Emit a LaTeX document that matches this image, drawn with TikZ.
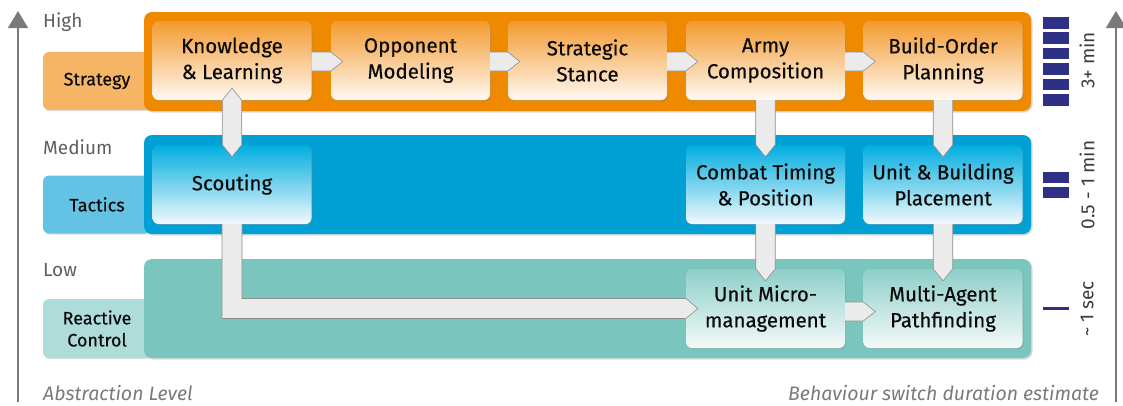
\documentclass[tikz,border=0pt]{standalone}
\usepackage{fontspec}
\setmainfont{Fira Sans}
\newfontfamily\stagefont{Fira Sans}[FakeBold=0.35]
\usetikzlibrary{calc,shadows,arrows.meta}

\definecolor{bandOrange}{HTML}{EF8A00}
\definecolor{lblOrange}{HTML}{F5B565}
\definecolor{boxOrangeTop}{HTML}{F39A30}
\definecolor{boxOrangeBot}{HTML}{FFF9F2}
\definecolor{bandBlue}{HTML}{00A0D4}
\definecolor{lblBlue}{HTML}{64C3E5}
\definecolor{boxBlueTop}{HTML}{00ADDF}
\definecolor{boxBlueBot}{HTML}{F2F9FD}
\definecolor{bandTeal}{HTML}{7AC6BF}
\definecolor{lblTeal}{HTML}{AEDCD9}
\definecolor{boxTealTop}{HTML}{8ECFC8}
\definecolor{boxTealBot}{HTML}{F4FAF9}
\definecolor{arrowGrey}{HTML}{EBEBEB}
\definecolor{arrowEdge}{HTML}{8E8E8E}
\definecolor{axisGrey}{HTML}{7A7A7A}
\definecolor{levelGrey}{HTML}{5E5E5E}
\definecolor{noteGrey}{HTML}{7A7A7A}
\definecolor{barNavy}{HTML}{2E2F86}
\definecolor{inkDark}{HTML}{0A0A0A}

% block arrow from the right side of #2 into the left side of #3 (#1 = vertical offset)
\newcommand\hconn[3][0]{%
  \fill[arrowGrey] ($(#2.east)+(0,#1-9.5)$) -- ($(#3.west)+(0,#1-9.5)$)
    -- ($(#3.west)+(12,#1)$) -- ($(#3.west)+(0,#1+9.5)$)
    -- ($(#2.east)+(0,#1+9.5)$) -- cycle;
  \draw[arrowline] ($(#2.east)+(0,#1-9.5)$) -- ($(#3.west)+(0,#1-9.5)$)
    -- ($(#3.west)+(12,#1)$) -- ($(#3.west)+(0,#1+9.5)$)
    -- ($(#2.east)+(0,#1+9.5)$);
}
% block arrow from the bottom of #1 into the top of #2
\newcommand\vconn[2]{%
  \fill[arrowGrey] ($(#1.south)+(-9.75,0)$) -- ($(#2.north)+(-9.75,0)$)
    -- ($(#2.north)+(0,12)$) -- ($(#2.north)+(9.75,0)$)
    -- ($(#1.south)+(9.75,0)$) -- cycle;
  \draw[arrowline] ($(#1.south)+(-9.75,0)$) -- ($(#2.north)+(-9.75,0)$)
    -- ($(#2.north)+(0,12)$) -- ($(#2.north)+(9.75,0)$)
    -- ($(#1.south)+(9.75,0)$);
}

\begin{document}
\begin{tikzpicture}[x=1pt,y=-1pt,
  lvlbox/.style={rounded corners=6pt, minimum width=108pt, minimum height=58pt,
    inner sep=0pt, align=center, text=inkDark, font=\stagefont\fontsize{18}{22}\selectfont,
    drop shadow={shadow xshift=1.2pt, shadow yshift=-1.2pt, opacity=0.25}},
  band/.style={rounded corners=8pt, minimum width=887pt, minimum height=99pt, inner sep=0pt,
    drop shadow={shadow xshift=1.5pt, shadow yshift=-1.5pt, opacity=0.3}},
  stagebox/.style={rounded corners=6pt, minimum width=159pt, minimum height=79pt,
    inner sep=0pt, align=center, text=inkDark, font=\stagefont\fontsize{20.5}{26}\selectfont,
    drop shadow={shadow xshift=1.2pt, shadow yshift=-1.2pt, opacity=0.3}},
  orangebox/.style={stagebox, top color=boxOrangeTop, bottom color=boxOrangeBot},
  bluebox/.style={stagebox, top color=boxBlueTop, bottom color=boxBlueBot},
  tealbox/.style={stagebox, top color=boxTealTop, bottom color=boxTealBot},
  arrowline/.style={draw=arrowEdge, line width=0.6pt, line join=miter},
  levelname/.style={anchor=west, text=levelGrey, font=\fontsize{19}{22}\selectfont, inner sep=0pt},
  note/.style={text=noteGrey, font=\fontsize{19.5}{22}\selectfont\itshape, inner sep=0pt},
  duration/.style={rotate=90, text=inkDark!80, font=\fontsize{19}{22}\selectfont, inner sep=0pt},
  axis/.style={draw=axisGrey, line width=1.6pt, -{Triangle[width=20pt,length=17pt]}},
  bar/.style={fill=barNavy}
]
\useasboundingbox (0,0) rectangle (1123,405);

% abstraction axis (left) and duration axis (right)
\coordinate (axL0) at (18,402);
\coordinate (axL1) at (18,11);
\coordinate (axR0) at (1116,402);
\coordinate (axR1) at (1116,11);
\draw[axis] (axL0) -- (axL1);
\draw[axis] (axR0) -- (axR1);

% level names
\node[levelname] (high) at (43,22) {High};
\node[levelname] (medium) at (43,147) {Medium};
\node[levelname] (low) at (43,270) {Low};

% layer labels
\node[lvlbox, fill=lblOrange] (lstrat) at (97,81) {Strategy};
\node[lvlbox, fill=lblBlue] (ltact) at (97,204.5) {Tactics};
\node[lvlbox, fill=lblTeal, minimum height=59pt] (lreact) at (97,328.5) {Reactive\\Control};

% layer bands
\node[band, fill=bandOrange] (bandS) at (587.5,61.5) {};
\node[band, fill=bandBlue] (bandT) at (587.5,184.5) {};
\node[band, fill=bandTeal] (bandR) at (587.5,308.5) {};

% strategy stages
\node[orangebox] (k) at (232,60.5) {Knowledge\\\& Learning};
\node[orangebox] (o) at (410.5,60.5) {Opponent\\Modeling};
\node[orangebox] (s) at (587.5,60.5) {Strategic\\Stance};
\node[orangebox] (a) at (765.5,60.5) {Army\\Composition};
\node[orangebox] (b) at (943,60.5) {Build-Order\\Planning};

% tactics stages
\node[bluebox] (sc) at (232,184.5) {Scouting};
\node[bluebox] (ct) at (765.5,184.5) {Combat Timing\\\& Position};
\node[bluebox] (ub) at (943,184.5) {Unit \& Building\\Placement};

% reactive stages
\node[tealbox] (um) at (765.5,308.5) {Unit Micro-\\management};
\node[tealbox] (ma) at (943,308.5) {Multi-Agent\\Pathfinding};

% strategy chain
\hconn[1]{k}{o}
\hconn[1]{o}{s}
\hconn[1]{s}{a}
\hconn[1]{a}{b}

% knowledge <-> scouting
\fill[arrowGrey] ($(k.south)+(0,-12)$) -- ($(k.south)+(9.75,0)$) -- ($(sc.north)+(9.75,0)$)
  -- ($(sc.north)+(0,12)$) -- ($(sc.north)+(-9.75,0)$) -- ($(k.south)+(-9.75,0)$) -- cycle;
\draw[arrowline] ($(k.south)+(0,-12)$) -- ($(k.south)+(9.75,0)$) -- ($(sc.north)+(9.75,0)$)
  -- ($(sc.north)+(0,12)$) -- ($(sc.north)+(-9.75,0)$) -- ($(k.south)+(-9.75,0)$) -- cycle;

% downward links
\vconn{a}{ct}
\vconn{b}{ub}
\vconn{ct}{um}
\vconn{ub}{ma}

% scouting -> unit micromanagement
\coordinate (bend) at (sc.south |- um.west);
\fill[arrowGrey] ($(sc.south)+(-10,0)$) -- ($(bend)+(-10,10)$) -- ($(um.west)+(0,10)$)
  -- ($(um.west)+(12,0)$) -- ($(um.west)+(0,-10)$) -- ($(bend)+(10,-10)$)
  -- ($(sc.south)+(10,0)$) -- cycle;
\draw[arrowline] ($(sc.south)+(-10,0)$) -- ($(bend)+(-10,10)$) -- ($(um.west)+(0,10)$)
  -- ($(um.west)+(12,0)$) -- ($(um.west)+(0,-10)$) -- ($(bend)+(10,-10)$)
  -- ($(sc.south)+(10,0)$);

% micromanagement -> pathfinding
\hconn[3]{um}{ma}

% duration bars
\foreach \i in {0,...,5} {
  \fill[bar] (1043,{17+15.4*\i}) rectangle (1069,{28.5+15.4*\i});
}
\fill[bar] (1043,172) rectangle (1069,183);
\fill[bar] (1043,187) rectangle (1069,198);
\fill[bar] (1043,306.5) rectangle (1069,309.5);

% duration labels
\node[duration] (dS) at (1087,60.5) {3+ min};
\node[duration] (dT) at (1087,185) {0.5 - 1 min};
\node[duration] (dR) at (1087,309) {\textasciitilde{} 1 sec};

% axis captions
\node[note, anchor=west] (capL) at (43,393) {Abstraction Level};
\node[note, anchor=east] (capR) at (1099,393) {Behaviour switch duration estimate};
\end{tikzpicture}
\end{document}
